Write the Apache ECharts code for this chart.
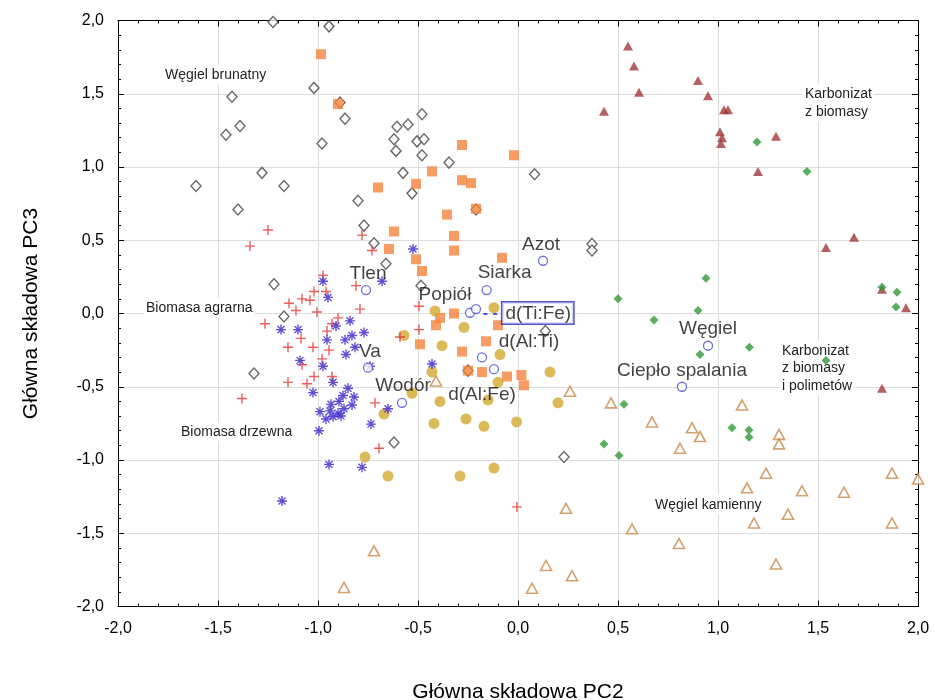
<!DOCTYPE html>
<html><head><meta charset="utf-8">
<script src="https://cdn.jsdelivr.net/npm/echarts@6/dist/echarts.min.js"></script>
<style>html,body{margin:0;padding:0;background:#fff}#c{width:935px;height:700px}</style>
</head><body><div id="c"></div>
<script>
// ---- tick labels ----
const tickValues = [-2, -1.5, -1, -0.5, 0, 0.5, 1, 1.5, 2];
const tickLabels = ['-2,0', '-1,5', '-1,0', '-0,5', '0,0', '0,5', '1,0', '1,5', '2,0'];

// ---- data: [PC2, PC3] ----
const wegielBrunatny = [[-1.225,1.99],[-0.945,1.96],[-1.02,1.54],[-1.43,1.48],[-1.39,1.28],[-1.46,1.22],[-1.28,0.96],[-1.61,0.87],[-1.17,0.87],[-1.40,0.71],[-0.89,1.44],[-0.865,1.33],[-0.48,1.36],[-0.605,1.275],[-0.55,1.29],[-0.62,1.19],[-0.505,1.175],[-0.47,1.19],[-0.61,1.11],[-0.48,1.08],[-0.98,1.16],[-0.345,1.03],[-0.575,0.96],[-0.53,0.82],[-0.80,0.77],[-0.21,0.71],[0.083,0.95],[-1.22,0.20],[-1.17,-0.02],[-1.32,-0.41],[-0.77,0.60],[-0.72,0.48],[-0.66,0.34],[-0.485,0.19],[-0.25,-0.39],[0.37,0.475],[0.37,0.43],[0.137,-0.12],[-0.62,-0.88],[0.23,-0.98]];
const orangeSquares = [[-0.985,1.77],[-0.90,1.43],[-0.28,1.15],[-0.02,1.08],[-0.43,0.97],[-0.28,0.91],[-0.235,0.89],[-0.51,0.885],[-0.70,0.86],[-0.21,0.715],[-0.355,0.675],[-0.62,0.56],[-0.32,0.53],[-0.645,0.44],[-0.32,0.43],[-0.51,0.37],[-0.08,0.38],[-0.48,0.29],[-0.32,0.0],[-0.39,-0.03],[-0.41,-0.08],[-0.10,-0.08],[-0.49,-0.21],[-0.16,-0.19],[-0.28,-0.26],[-0.25,-0.39],[-0.18,-0.40],[-0.055,-0.43],[0.017,-0.42],[0.03,-0.49]];
const karbonizatTriangles = [[0.55,1.826],[0.58,1.69],[0.605,1.51],[0.90,1.59],[0.95,1.487],[0.43,1.38],[1.03,1.39],[1.05,1.39],[1.01,1.24],[1.02,1.20],[1.015,1.16],[1.29,1.21],[1.20,0.97],[1.54,0.45],[1.68,0.52],[1.82,0.165],[1.94,0.04],[1.82,-0.51]];
const greenDiamonds = [[1.195,1.17],[1.445,0.97],[0.94,0.24],[0.50,0.10],[0.90,0.02],[0.68,-0.045],[0.91,-0.28],[0.53,-0.62],[1.157,-0.23],[1.54,-0.32],[1.82,0.18],[1.895,0.145],[1.89,0.045],[0.43,-0.89],[0.505,-0.97],[1.07,-0.78],[1.155,-0.795],[1.155,-0.845]];
const wegielKamienny = [[0.26,-0.53],[0.465,-0.61],[0.67,-0.74],[0.87,-0.78],[0.91,-0.84],[0.81,-0.92],[0.24,-1.33],[0.57,-1.47],[0.805,-1.57],[0.14,-1.72],[0.27,-1.79],[0.07,-1.875],[1.12,-0.625],[1.305,-0.825],[1.305,-0.89],[1.24,-1.09],[1.145,-1.19],[1.42,-1.21],[1.87,-1.09],[2.0,-1.13],[1.63,-1.22],[1.35,-1.37],[1.18,-1.43],[1.87,-1.43],[1.29,-1.71],[-0.72,-1.62],[-0.87,-1.87],[-0.41,-0.46]];
const goldCircles = [[-0.415,0.017],[-0.27,-0.094],[-0.12,0.04],[-0.57,-0.15],[-0.38,-0.22],[-0.09,-0.28],[-0.43,-0.40],[-0.10,-0.47],[-0.53,-0.545],[0.16,-0.40],[0.20,-0.61],[-0.67,-0.686],[-0.42,-0.75],[-0.26,-0.72],[-0.17,-0.77],[-0.007,-0.74],[-0.765,-0.98],[-0.65,-1.11],[-0.29,-1.11],[-0.12,-1.055],[-0.39,-0.60],[-0.15,-0.59]];
const biomasaAgrarna = [[-1.25,0.57],[-1.34,0.46],[-1.145,0.07],[-1.08,0.10],[-1.04,0.09],[-1.02,0.15],[-1.005,0.01],[-1.265,-0.07],[-1.085,-0.17],[-1.15,-0.23],[-1.025,-0.23],[-1.08,-0.35],[-1.02,-0.43],[-1.15,-0.47],[-1.055,-0.48],[-1.38,-0.58],[-0.78,0.535],[-0.73,0.43],[-0.81,0.19],[-0.975,0.26],[-0.96,0.15],[-0.79,0.03],[-0.90,-0.03],[-0.93,-0.07],[-0.495,0.05],[-0.495,-0.11],[-0.59,-0.16],[-0.945,-0.25],[-0.98,-0.31],[-0.93,-0.43],[-0.715,-0.61],[-0.695,-0.92],[-0.005,-1.32],[-1.11,0.02],[-0.955,-0.12]];
const biomasaDrzewna = [[-1.10,-0.11],[-1.185,-0.11],[-1.09,-0.32],[-1.025,-0.54],[-0.975,0.22],[-0.95,0.11],[-0.955,-0.18],[-0.865,-0.18],[-0.83,-0.15],[-0.815,-0.23],[-0.86,-0.28],[-0.77,-0.13],[-0.74,-0.36],[-0.975,-0.36],[-0.925,-0.47],[-0.85,-0.51],[-0.875,-0.56],[-0.82,-0.57],[-0.935,-0.62],[-0.895,-0.60],[-0.87,-0.65],[-0.94,-0.665],[-0.90,-0.68],[-0.83,-0.625],[-0.925,-0.705],[-0.96,-0.72],[-0.885,-0.70],[-0.99,-0.67],[-0.995,-0.80],[-0.945,-1.03],[-0.78,-1.05],[-0.735,-0.755],[-0.65,-0.65],[-0.43,-0.345],[-1.18,-1.28],[-0.525,0.44],[-0.68,0.22],[-0.91,-0.085],[-0.84,-0.05]];
const varNames = ['Tlen','Siarka','Azot','Popiół','d(Ti:Fe)','d(Al:Ti)','d(Al:Fe)','Va','Wodór','Węgiel','Ciepło spalania'];
const varPC2 = [-0.76,-0.157,0.125,-0.24,-0.21,-0.18,-0.12,-0.75,-0.58,0.95,0.82];
const varPC3 = [0.16,0.16,0.36,0.005,0.03,-0.30,-0.38,-0.37,-0.61,-0.22,-0.50];

// ---- styles (label offsets in px) ----
const labelOffsets = {'Tlen':[2,-16],'Siarka':[18,-17],'Azot':[-2,-16],'Popiół':[-25,-18],'d(Ti:Fe)':[52,4],'d(Al:Ti)':[47,-16],'d(Al:Fe)':[-12,26],'Va':[2,-16],'Wodór':[1,-17],'Węgiel':[0,-17],'Ciepło spalania':[0,-16]};
const FONT = '"Liberation Sans", Arial, sans-serif';

const chart = echarts.init(document.getElementById('c'), null, {renderer:'canvas'});
const fmt = v => { const i = tickValues.findIndex(t => Math.abs(t - v) < 1e-9); return i >= 0 ? tickLabels[i] : ''; };

function axis(pos, isX, main) {
  return {
    type:'value', min:-2, max:2, interval:0.5, position:pos,
    axisLine:{show:true, onZero:false, lineStyle:{color:'#000', width:1}},
    axisTick:{show:true, inside:true, length:6, lineStyle:{color:'#000'}},
    minorTick:{show:true, splitNumber:5, length:3, lineStyle:{color:'#000'}},
    splitLine:{show:main, lineStyle:{color:'#dcdcdc', width:1}},
    minorSplitLine:{show:false},
    axisLabel:{show:main, formatter:fmt, fontSize:16, color:'#000', fontFamily:FONT, margin:14},
    name: main ? (isX ? 'Główna składowa PC2' : 'Główna składowa PC3') : '',
    nameLocation:'middle', nameGap: isX ? 75 : 76,
    nameTextStyle:{fontSize:21, color:'#000', fontFamily:FONT}
  };
}

const base = {type:'scatter', xAxisIndex:0, yAxisIndex:0, emphasis:{disabled:true}, silent:true};
const varData = varNames.map((n,i) => {
  const o = labelOffsets[n];
  const item = {name:n, value:[varPC2[i], varPC3[i]], label:{show:true, position:'inside', offset:o, formatter:n}};
  if (n === 'd(Ti:Fe)') {
    item.label.formatter = '{d|- - }{b|d(Ti:Fe)}';
    item.label.rich = {
      d:{color:'#2b2bbf', fontSize:16, fontFamily:FONT, fontWeight:'bold'},
      b:{color:'#111', fontSize:19, fontFamily:FONT, borderColor:'#2b2bbf', borderWidth:1.5, padding:[2,2,0,3], backgroundColor:'#fff'}
    };
  }
  return item;
});

const txt = (left, top, text, lh) => ({type:'text', left, top, z:1,
  style:{text, fill:'#222', font:'14px '+FONT, lineHeight:lh || 17.5, backgroundColor:'#fff', padding:[1,2]}});

const option = {
  animation:false,
  grid:{left:118, right:17, top:20.5, bottom:93.5, containLabel:false, outerBoundsMode:'none'},
  xAxis:[axis('bottom', true, true), axis('top', true, false)],
  yAxis:[axis('left', false, true), axis('right', false, false)],
  series:[
    Object.assign({}, base, {name:'Węgiel brunatny', data:wegielBrunatny, symbol:'diamond', symbolSize:[10,11], itemStyle:{color:'#fff', borderColor:'#444', borderWidth:1.4}}),
    Object.assign({}, base, {name:'kwadraty', data:orangeSquares, symbol:'rect', symbolSize:10, itemStyle:{color:'#f5843c'}}),
    Object.assign({}, base, {name:'Karbonizat z biomasy', data:karbonizatTriangles, symbol:'triangle', symbolSize:[10,9], itemStyle:{color:'#a33a3a'}}),
    Object.assign({}, base, {name:'Karbonizat z biomasy i polimetów', data:greenDiamonds, symbol:'diamond', symbolSize:[9,9], itemStyle:{color:'#2f9a38'}}),
    Object.assign({}, base, {name:'Węgiel kamienny', data:wegielKamienny, symbol:'triangle', symbolSize:[11,10], itemStyle:{color:'#fff', borderColor:'#c98a4b', borderWidth:1.6}}),
    Object.assign({}, base, {name:'zolte', data:goldCircles, symbol:'circle', symbolSize:11, itemStyle:{color:'#d3a82f'}}),
    Object.assign({}, base, {name:'Biomasa agrarna', data:biomasaAgrarna, symbol:'path://M5 0V10M0 5H10', symbolSize:10, itemStyle:{color:'none', borderColor:'#e8332f', borderWidth:1.4}}),
    Object.assign({}, base, {name:'Biomasa drzewna', data:biomasaDrzewna, symbol:'path://M5 0V10M0 5H10M1.5 1.5L8.5 8.5M8.5 1.5L1.5 8.5', symbolSize:10, itemStyle:{color:'none', borderColor:'#3a22cc', borderWidth:1.4}}),
    Object.assign({}, base, {name:'zmienne', data:varData, symbol:'circle', symbolSize:9, z:5,
      itemStyle:{color:'#fff', borderColor:'#4b4bd3', borderWidth:1.3},
      label:{color:'#111', fontSize:19, fontFamily:FONT}})
  ],
  graphic:[
    txt(163, 65, 'Węgiel brunatny'),
    txt(803, 84, 'Karbonizat\nz biomasy', 18),
    txt(144, 298, 'Biomasa agrarna'),
    txt(179, 422, 'Biomasa drzewna'),
    txt(780, 341, 'Karbonizat\nz biomasy\ni polimetów', 17.5),
    txt(653, 495, 'Węgiel kamienny')
  ]
};
chart.setOption(option);
</script></body></html>
